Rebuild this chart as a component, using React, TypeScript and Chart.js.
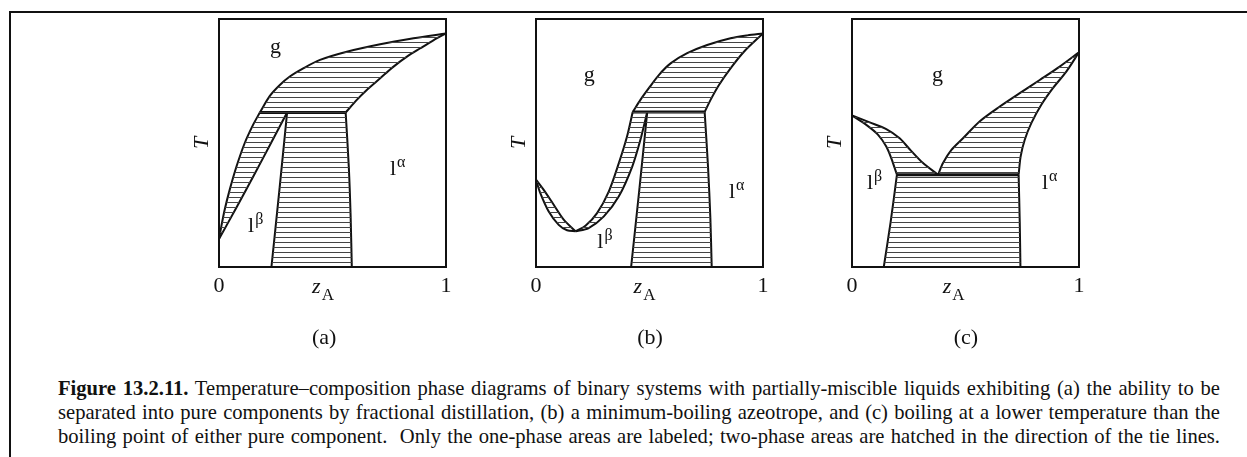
import React, { useEffect, useRef } from "react";
import { Chart, registerables } from "chart.js";

Chart.register(...registerables);

const SERIF = '"Liberation Serif", "Times New Roman", serif';
const INK = "#111111";

// ---------- shared axis / text data ----------
const X_TICKS = [0, 1];
const X_TICK_LABELS = ["0", "1"];
const Y_TITLE = "T";
const X_TITLE_MAIN = "z";
const X_TITLE_SUB = "A";
const PANEL_LETTERS = ["(a)", "(b)", "(c)"];
const CAPTION_BOLD = "Figure 13.2.11.";
const CAPTION_LINES = [
  " Temperature\u2013composition phase diagrams of binary systems with partially-miscible liquids exhibiting (a) the ability to be",
  "separated into pure components by fractional distillation, (b) a minimum-boiling azeotrope, and (c) boiling at a lower temperature than the",
  "boiling point of either pure component.  Only the one-phase areas are labeled; two-phase areas are hatched in the direction of the tie lines.",
];

// ---------- Panel (a) ----------
const A_TP = 0.623;
const A_DEW_LEFT = [[0, 0.113], [0.0103, 0.164], [0.025, 0.231], [0.047, 0.311], [0.077, 0.405], [0.113, 0.499], [0.15, 0.573], [0.18, A_TP]];
const A_DEW_UPPER = [[0.18, A_TP], [0.224, 0.69], [0.268, 0.734], [0.312, 0.768], [0.371, 0.801], [0.445, 0.835], [0.563, 0.868], [0.71, 0.898], [0.857, 0.922], [1, 0.942]];
const A_BUB_BETA = [[0, 0.113], [0.08, 0.245], [0.155, 0.372], [0.228, 0.498], [0.3, A_TP]];
const A_BUB_ALPHA = [[0.558, A_TP], [0.607, 0.674], [0.651, 0.714], [0.71, 0.761], [0.769, 0.808], [0.828, 0.848], [0.887, 0.882], [0.946, 0.915], [1, 0.942]];
const A_LL_BETA = [[0.3, A_TP], [0.266, 0.31], [0.231, 0]];
const A_LL_ALPHA = [[0.558, A_TP], [0.572, 0.4], [0.58, 0.2], [0.585, 0]];
const A_TIE = [[0.18, A_TP], [0.558, A_TP]];

// ---------- Panel (b) ----------
const B_TP = 0.625;
const B_DEW_LEFT = [[0, 0.352], [0.034, 0.311], [0.078, 0.251], [0.122, 0.191], [0.174, 0.144]];
const B_BUB_LEFT = [[0, 0.352], [0.019, 0.298], [0.056, 0.224], [0.1, 0.17], [0.137, 0.148], [0.174, 0.144]];
const B_DEW_MID = [[0.174, 0.144], [0.218, 0.166], [0.269, 0.217], [0.321, 0.305], [0.365, 0.419], [0.401, 0.526], [0.426, B_TP]];
const B_BUB_BETA = [[0.174, 0.144], [0.232, 0.157], [0.299, 0.204], [0.365, 0.285], [0.424, 0.405], [0.46, 0.513], [0.49, B_TP]];
const B_DEW_UPPER = [[0.426, B_TP], [0.46, 0.674], [0.497, 0.721], [0.541, 0.774], [0.593, 0.821], [0.666, 0.862], [0.754, 0.895], [0.857, 0.922], [0.931, 0.934], [1, 0.942]];
const B_BUB_ALPHA = [[0.743, B_TP], [0.769, 0.674], [0.806, 0.734], [0.857, 0.801], [0.916, 0.868], [1, 0.942]];
const B_LL_BETA = [[0.49, B_TP], [0.455, 0.31], [0.419, 0]];
const B_LL_ALPHA = [[0.743, B_TP], [0.758, 0.4], [0.768, 0.2], [0.774, 0]];
const B_TIE = [[0.426, B_TP], [0.743, B_TP]];

// ---------- Panel (c) ----------
const C_TP = 0.372;
const C_DEW_LEFT = [[0, 0.611], [0.078, 0.583], [0.151, 0.556], [0.21, 0.519], [0.254, 0.475], [0.313, 0.419], [0.379, C_TP]];
const C_BUB_BETA = [[0, 0.611], [0.063, 0.573], [0.115, 0.533], [0.151, 0.486], [0.173, 0.439], [0.188, 0.399], [0.198, C_TP]];
const C_DEW_RIGHT = [[0.379, C_TP], [0.401, 0.419], [0.438, 0.472], [0.489, 0.519], [0.562, 0.587], [0.651, 0.647], [0.739, 0.701], [0.827, 0.754], [0.915, 0.808], [1, 0.866]];
const C_BUB_ALPHA = [[0.734, C_TP], [0.743, 0.446], [0.761, 0.513], [0.79, 0.58], [0.834, 0.654], [0.885, 0.721], [0.944, 0.788], [1, 0.866]];
const C_LL_BETA = [[0.198, C_TP], [0.17, 0.18], [0.14, 0]];
const C_LL_ALPHA = [[0.734, C_TP], [0.739, 0.18], [0.742, 0]];
const C_TIE = [[0.198, C_TP], [0.734, C_TP]];

// ---------- phase labels [text, superscript, x, y(baseline)] ----------
const A_LABELS: [string, string, number, number][] = [["g", "", 0.225, 0.863], ["l", "\u03b1", 0.753, 0.371], ["l", "\u03b2", 0.128, 0.141]];
const B_LABELS: [string, string, number, number][] = [["g", "", 0.21, 0.75], ["l", "\u03b1", 0.85, 0.278], ["l", "\u03b2", 0.27, 0.077]];
const C_LABELS: [string, string, number, number][] = [["g", "", 0.352, 0.75], ["l", "\u03b2", 0.066, 0.315], ["l", "\u03b1", 0.837, 0.315]];

const rev = (a: number[][]) => a.slice().reverse();

type PanelCfg = {
  left: number;
  regions: number[][][];
  curves: number[][][];
  tie: number[][];
  labels: [string, string, number, number][];
  letter: string;
  letterX: number;
  zX: number;
};

const PANELS: PanelCfg[] = [
  {
    left: 219,
    regions: [
      [...A_DEW_LEFT, ...rev(A_BUB_BETA)],
      [...A_DEW_UPPER, ...rev(A_BUB_ALPHA)],
      [...A_LL_ALPHA, ...rev(A_LL_BETA)],
    ],
    curves: [A_DEW_LEFT, A_DEW_UPPER, A_BUB_BETA, A_BUB_ALPHA, A_LL_BETA, A_LL_ALPHA],
    tie: A_TIE,
    labels: A_LABELS,
    letter: PANEL_LETTERS[0],
    letterX: 0.463,
    zX: 0.41,
  },
  {
    left: 536,
    regions: [
      [...B_DEW_LEFT, ...rev(B_BUB_LEFT)],
      [...B_DEW_MID, ...rev(B_BUB_BETA)],
      [...B_DEW_UPPER, ...rev(B_BUB_ALPHA)],
      [...B_LL_ALPHA, ...rev(B_LL_BETA)],
    ],
    curves: [B_DEW_LEFT, B_BUB_LEFT, B_DEW_MID, B_BUB_BETA, B_DEW_UPPER, B_BUB_ALPHA, B_LL_BETA, B_LL_ALPHA],
    tie: B_TIE,
    labels: B_LABELS,
    letter: PANEL_LETTERS[1],
    letterX: 0.502,
    zX: 0.43,
  },
  {
    left: 852,
    regions: [
      [...C_DEW_LEFT, ...rev(C_BUB_BETA)],
      [...C_DEW_RIGHT, ...rev(C_BUB_ALPHA)],
      [...C_LL_ALPHA, ...rev(C_LL_BETA)],
    ],
    curves: [C_DEW_LEFT, C_BUB_BETA, C_DEW_RIGHT, C_BUB_ALPHA, C_LL_BETA, C_LL_ALPHA],
    tie: C_TIE,
    labels: C_LABELS,
    letter: PANEL_LETTERS[2],
    letterX: 0.502,
    zX: 0.4,
  },
];

const BOX_W = 227;
const BOX_TOP = 19;
const BOX_BOTTOM = 267;
const PAD_L = 40;
const PAD_R = 20;
const CANVAS_H = 360;
const CANVAS_W = BOX_W + PAD_L + PAD_R;

const toPts = (a: number[][]) => a.map(([x, y]) => ({ x, y }));

function Panel({ cfg }: { cfg: PanelCfg }) {
  const ref = useRef<HTMLCanvasElement>(null);
  useEffect(() => {
    const canvas = ref.current!;
    const pc = document.createElement("canvas");
    pc.width = 8;
    pc.height = 5;
    const g = pc.getContext("2d")!;
    g.fillStyle = "#444444";
    g.fillRect(0, 2, 8, 1);
    const pattern = canvas.getContext("2d")!.createPattern(pc, "repeat")!;

    const datasets: any[] = [
      ...cfg.regions.map((r) => ({
        data: toPts(r),
        showLine: true,
        fill: "shape",
        backgroundColor: pattern,
        borderColor: "rgba(0,0,0,0)",
        borderWidth: 1,
        pointRadius: 0,
        tension: 0,
      })),
      ...cfg.curves.map((c) => ({
        data: toPts(c),
        showLine: true,
        fill: false,
        borderColor: INK,
        borderWidth: 2,
        pointRadius: 0,
        tension: 0.3,
      })),
      {
        data: toPts(cfg.tie),
        showLine: true,
        fill: false,
        borderColor: INK,
        borderWidth: 3,
        pointRadius: 0,
        tension: 0,
      },
    ];

    const decor = {
      id: "decor",
      afterDatasetsDraw(chart: any) {
        const { ctx, chartArea: ca, scales } = chart;
        const xs = scales.x;
        const ys = scales.y;
        ctx.save();
        ctx.strokeStyle = INK;
        ctx.lineWidth = 2;
        ctx.strokeRect(ca.left, ca.top, ca.right - ca.left, ca.bottom - ca.top);
        ctx.fillStyle = INK;
        ctx.textBaseline = "alphabetic";
        // tick labels
        ctx.font = `22px ${SERIF}`;
        ctx.textAlign = "center";
        X_TICKS.forEach((v, i) => ctx.fillText(X_TICK_LABELS[i], xs.getPixelForValue(v), ca.bottom + 25));
        // panel letter
        ctx.fillText(cfg.letter, xs.getPixelForValue(cfg.letterX), ca.bottom + 77);
        // x title z_A
        ctx.textAlign = "left";
        ctx.font = `italic 22px ${SERIF}`;
        const zx = xs.getPixelForValue(cfg.zX);
        ctx.fillText(X_TITLE_MAIN, zx, ca.bottom + 26);
        const zw = ctx.measureText(X_TITLE_MAIN).width;
        ctx.font = `17px ${SERIF}`;
        ctx.fillText(X_TITLE_SUB, zx + zw + 1, ca.bottom + 33);
        // y title T (rotated)
        ctx.save();
        ctx.translate(ca.left - 17, ys.getPixelForValue(0.5));
        ctx.rotate(-Math.PI / 2);
        ctx.font = `italic 22px ${SERIF}`;
        ctx.textAlign = "center";
        ctx.textBaseline = "middle";
        ctx.fillText(Y_TITLE, 0, 0);
        ctx.restore();
        // phase labels
        cfg.labels.forEach(([t, sup, lx, ly]) => {
          const px = xs.getPixelForValue(lx);
          const py = ys.getPixelForValue(ly);
          ctx.textAlign = "left";
          ctx.textBaseline = "alphabetic";
          ctx.font = `22px ${SERIF}`;
          ctx.fillText(t, px, py);
          if (sup) {
            const w = ctx.measureText(t).width;
            ctx.font = `16px ${SERIF}`;
            ctx.fillText(sup, px + w + 1, py - 8);
          }
        });
        ctx.restore();
      },
    };

    const chart = new Chart(canvas, {
      type: "scatter",
      data: { datasets },
      options: {
        responsive: false,
        animation: false,
        events: [],
        layout: { padding: { left: PAD_L, right: PAD_R, top: BOX_TOP, bottom: CANVAS_H - BOX_BOTTOM } },
        scales: {
          x: { type: "linear", min: 0, max: 1, display: false },
          y: { type: "linear", min: 0, max: 1, display: false },
        },
        plugins: { legend: { display: false }, tooltip: { enabled: false } },
      },
      plugins: [decor],
    } as any);
    return () => chart.destroy();
  }, [cfg]);
  return (
    <canvas
      ref={ref}
      width={CANVAS_W}
      height={CANVAS_H}
      style={{ position: "absolute", left: cfg.left - PAD_L, top: 0, width: CANVAS_W, height: CANVAS_H }}
    />
  );
}

export default function App() {
  return (
    <div style={{ position: "fixed", left: 0, top: 0, width: 1247, height: 457, background: "#fff", overflow: "hidden" }}>
      <div
        style={{
          position: "absolute",
          left: 9,
          top: 11,
          width: 1260,
          height: 500,
          borderTop: `2px solid ${INK}`,
          borderLeft: `2px solid ${INK}`,
        }}
      />
      {PANELS.map((p, i) => (
        <Panel key={i} cfg={p} />
      ))}
      <div
        style={{
          position: "absolute",
          left: 58,
          top: 376,
          width: 1162,
          fontFamily: SERIF,
          fontSize: "20.6px",
          lineHeight: "24px",
          color: INK,
        }}
      >
        {CAPTION_LINES.map((l, i) => (
          <div key={i} style={{ textAlign: "justify", textAlignLast: "justify", whiteSpace: "pre" }}>
            {i === 0 ? <b>{CAPTION_BOLD}</b> : null}
            {l}
          </div>
        ))}
      </div>
    </div>
  );
}
